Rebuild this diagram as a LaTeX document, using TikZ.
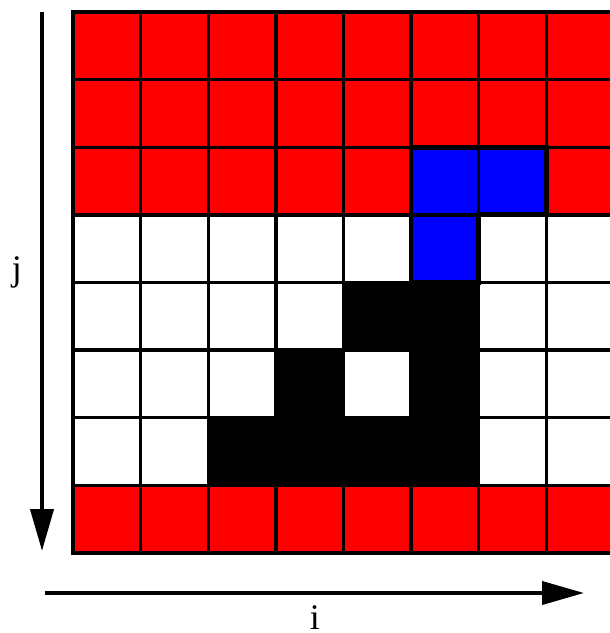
\documentclass[tikz,border=0pt]{standalone}
\usepackage{fontspec}
\setmainfont{Liberation Serif}
\usetikzlibrary{arrows.meta}

\begin{document}
\begin{tikzpicture}[x=0.5pt,y=-0.5pt]
        \tikzstyle{cell} = [draw=black, line width=1.7pt]
        \tikzstyle{axis} = [line width=2pt, -{Triangle[length=21pt,width=11.5pt]}]
        \tikzstyle{label} = [font=\fontsize{18}{20}\selectfont, anchor=base, inner sep=0pt]
        \useasboundingbox (0,0) rectangle (610,633);
        % grid of 8x8 cells, 67.6px each
        \begin{scope}[shift={(73,12)}, x=33.8pt, y=-33.8pt]
            \foreach \i in {0,...,7}
                \foreach \j in {0,...,7}
                    \draw [cell, fill=white] (\i,\j) rectangle ++(1,1);
            \foreach \i in {0,...,7}
                \foreach \j in {0,1,2,7}
                    \draw [cell, fill=red] (\i,\j) rectangle ++(1,1);
            \foreach \i/\j in {5/2, 6/2, 5/3}
                \draw [cell, fill=blue] (\i,\j) rectangle ++(1,1);
            \draw [line width=2.4pt] (5,2) -- (7,2) -- (7,3) -- (6,3) -- (6,4) -- (5,4) -- cycle;
            \foreach \i/\j in {4/4, 5/4, 3/5, 5/5, 2/6, 3/6, 4/6, 5/6}
                \draw [cell, fill=black] (\i,\j) rectangle ++(1,1);
        \end{scope}
        % axes
        \coordinate (jstart) at (42,12);
        \coordinate (jend) at (42,551);
        \coordinate (istart) at (45,593);
        \coordinate (iend) at (584,593);
        \draw [axis] (jstart) -- (jend);
        \draw [axis] (istart) -- (iend);
        \node (jlabel) [label] at (17,280) {j};
        \node (ilabel) [label] at (315,629) {i};
\end{tikzpicture}
\end{document}
